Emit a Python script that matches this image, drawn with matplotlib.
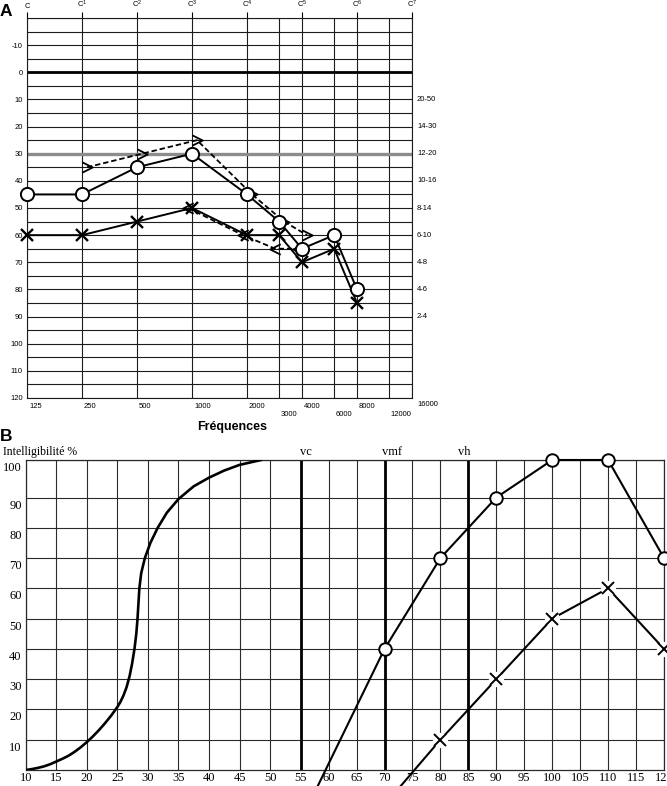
import numpy as np
import matplotlib
matplotlib.use("Agg")
import matplotlib.pyplot as plt
from matplotlib.path import Path
from matplotlib.ticker import NullLocator
from matplotlib.transforms import ScaledTranslation

plt.rcParams['font.family'] = ['Liberation Sans', 'DejaVu Sans']
plt.rcParams['mathtext.fontset'] = 'custom'
plt.rcParams['mathtext.rm'] = 'Liberation Sans'
plt.rcParams['mathtext.it'] = 'Liberation Sans:italic'
plt.rcParams['mathtext.bf'] = 'Liberation Sans:bold'

# ---- A : audiogramme tonal ----
freqs = [125, 250, 500, 1000, 2000, 3000, 4000, 6000, 8000]
air_circle = [45, 45, 35, 30, 45, 55, 65, 60, 80]
air_cross = [60, 60, 55, 50, 60, 60, 70, 65, 85]
bone_right_freqs = [250, 500, 1000, 2000, 3000, 4000]
bone_right = [35, 30, 25, 45, 55, 60]
bone_left_freqs = [1000, 2000, 3000, 4000]
bone_left = [50, 60, 65, 65]

octave_freqs = [125, 250, 500, 1000, 2000, 4000, 8000, 16000]
octave_names = ['C', 'C$^{1}$', 'C$^{2}$', 'C$^{3}$', 'C$^{4}$', 'C$^{5}$', 'C$^{6}$', 'C$^{7}$']
half_freqs = [3000, 6000, 12000]
db_ticks = list(range(-10, 121, 10))
side_db = [10, 20, 30, 40, 50, 60, 70, 80, 90]
side_labels = ['20-50', '14-30', '12-20', '10-16', '8-14', '6-10', '4-8', '4-6', '2-4']

# ---- B : audiometrie vocale ----
normal_db = [10, 11, 12, 13, 14, 15, 16, 17, 18, 19, 20, 21, 22, 23, 24, 25, 25.5, 26,
             26.5, 27, 27.4, 27.8, 28.1, 28.3, 28.45, 28.6, 28.9, 29.5, 30.4, 31.6,
             33.1, 35, 37.5, 40, 42.5, 45, 48.5]
normal_pct = [0, 0.3, 0.7, 1.2, 1.9, 2.8, 3.7, 4.7, 6, 7.5, 9.2, 11.1, 13.2, 15.5, 18,
              20.8, 22.5, 24.6, 27.3, 31, 35, 40, 45, 50, 55, 60, 65, 70, 75, 80,
              85, 89.5, 93, 95.3, 97.2, 98.7, 100]
circle_db = [58, 70, 80, 90, 100, 110, 120]
circle_pct = [-5.5, 40, 70, 90, 100, 100, 70]
cross_db = [72.8, 80, 90, 100, 110, 120]
cross_pct = [-5.5, 10, 30, 50, 60, 40]
ref_db = [55, 70, 85]
ref_names = ['vc', 'vmf', 'vh']
b_xticks = list(range(10, 121, 5))
b_yticks = list(range(10, 101, 10))

W, H = 667, 786
fig = plt.figure(figsize=(W / 100, H / 100), dpi=100)


def box(l, t, r, b):
    return [l / W, 1 - b / H, (r - l) / W, (b - t) / H]


def shift(ax, dx):
    return ax.transData + ScaledTranslation(dx / 100, 0, fig.dpi_scale_trans)


small = 5.5
grid_c = '#1c1c1c'

# ================= A =================
axA = fig.add_axes(box(27, 18, 412, 398))
axA.set_xscale('log', base=2)
axA.set_xlim(125, 16000)
axA.set_ylim(120, -20)
axA.xaxis.set_minor_locator(NullLocator())
axA.yaxis.set_minor_locator(NullLocator())

axA.hlines(range(-20, 121, 5), 125, 16000, colors=grid_c, lw=0.8, zorder=1)
axA.vlines(octave_freqs + half_freqs, -20, 120, colors=grid_c, lw=0.8, zorder=1)
axA.hlines(0, 125, 16000, colors='black', lw=2.0, zorder=1.5)
axA.hlines(30, 125, 16000, colors='#8c8c8c', lw=2.4, zorder=1.5)

right_chev = Path([(-1, 1), (1, 0), (-1, -1)], [Path.MOVETO, Path.LINETO, Path.LINETO])
left_chev = Path([(1, 1), (-1, 0), (1, -1)], [Path.MOVETO, Path.LINETO, Path.LINETO])

axA.plot(bone_right_freqs, bone_right, color='black', lw=1.3, ls=(0, (3, 1.6)),
         marker=right_chev, ms=7.5, mfc='none', mec='black', mew=1.3,
         transform=shift(axA, 5), zorder=3, clip_on=False)
axA.plot(bone_left_freqs, bone_left, color='black', lw=1.3, ls=(0, (3, 1.6)),
         marker=left_chev, ms=7.5, mfc='none', mec='black', mew=1.3,
         transform=shift(axA, -4), zorder=3, clip_on=False)
axA.plot(freqs, air_cross, color='black', lw=1.4, marker='x', ms=8, mew=1.7,
         zorder=4, clip_on=False)
axA.plot(freqs, air_circle, color='black', lw=1.4, marker='o', ms=9.5, mfc='white',
         mec='black', mew=1.4, zorder=5, clip_on=False)

axA.set_yticks(db_ticks, [str(v) for v in db_ticks])
axA.set_xticks(octave_freqs, octave_names)
axA.tick_params(axis='y', length=0, pad=3, labelsize=small)
axA.tick_params(axis='x', which='major', top=True, bottom=False, labeltop=True,
                labelbottom=False, length=4.3, width=0.8, pad=1.5, labelsize=small,
                direction='out')
for s in axA.spines.values():
    s.set_linewidth(0.8)
    s.set_color(grid_c)

for f in octave_freqs[:-1]:
    axA.annotate(str(f), xy=(f, 0), xycoords=('data', 'axes fraction'),
                 xytext=(2, -9), textcoords='offset pixels', ha='left', va='center',
                 fontsize=small)
axA.annotate(str(octave_freqs[-1]), xy=(octave_freqs[-1], 0),
             xycoords=('data', 'axes fraction'), xytext=(5, -7),
             textcoords='offset pixels', ha='left', va='center', fontsize=small)
for f in half_freqs:
    axA.annotate(str(f), xy=(f, 0), xycoords=('data', 'axes fraction'),
                 xytext=(1, -17), textcoords='offset pixels', ha='left', va='center',
                 fontsize=small)
for d, lab in zip(side_db, side_labels):
    axA.annotate(lab, xy=(1, d), xycoords=('axes fraction', 'data'),
                 xytext=(5, 0), textcoords='offset pixels', ha='left', va='center',
                 fontsize=small)

fig.text(232 / W, 1 - 427 / H, 'Fréquences', ha='center', va='center',
         fontsize=9, fontweight='bold')
fig.text(0 / W, 1 - 11 / H, 'A', ha='left', va='center', fontsize=12.5, fontweight='bold')
fig.text(0 / W, 1 - 437 / H, 'B', ha='left', va='center', fontsize=12.5, fontweight='bold')

# ================= B =================
# the printed grid is not evenly ruled: wider steps below 55 dB and above 90 %
KX = 5.58 / 6.1
KY = 37.7 / 30.4


def fwd_x(v):
    v = np.asarray(v, float)
    return np.where(v <= 55, v, 55 + (v - 55) * KX)


def inv_x(u):
    u = np.asarray(u, float)
    return np.where(u <= 55, u, 55 + (u - 55) / KX)


def fwd_y(v):
    v = np.asarray(v, float)
    return np.where(v <= 90, v, 90 + (v - 90) * KY)


def inv_y(u):
    u = np.asarray(u, float)
    return np.where(u <= 90, u, 90 + (u - 90) / KY)


serif = ['Liberation Serif', 'DejaVu Serif']
axB = fig.add_axes(box(25.7, 460, 664, 770))
axB.set_xscale('function', functions=(fwd_x, inv_x))
axB.set_yscale('function', functions=(fwd_y, inv_y))
axB.set_xlim(10, 120)
axB.set_ylim(0, 100)
axB.xaxis.set_minor_locator(NullLocator())
axB.yaxis.set_minor_locator(NullLocator())

axB.vlines(b_xticks, 0, 100, colors='#2a2a2a', lw=0.8, zorder=1)
axB.hlines(b_yticks, 10, 120, colors='#2a2a2a', lw=0.8, zorder=1)
axB.vlines(ref_db, 0, 100, colors='black', lw=2.0, zorder=2)
for x, name, dx in zip(ref_db, ref_names, [5, 8, -4]):
    axB.annotate(name, xy=(x, 1), xycoords=('data', 'axes fraction'),
                 xytext=(dx, 8), textcoords='offset pixels', ha='center', va='center',
                 fontsize=9, family=serif)

axB.plot(normal_db, normal_pct, color='black', lw=1.9, zorder=3,
         solid_joinstyle='round')

axB.plot(circle_db, circle_pct, color='black', lw=1.5, zorder=3, clip_on=False)
axB.plot(circle_db[1:], circle_pct[1:], ls='none', marker='o', ms=9, mfc='white',
         mec='black', mew=1.4, zorder=4, clip_on=False)

axB.plot(cross_db, cross_pct, color='black', lw=1.5, zorder=3, clip_on=False)
axB.plot(cross_db[1:], cross_pct[1:], ls='none', marker='o', ms=11, mfc='white',
         mec='none', zorder=4, clip_on=False)
axB.plot(cross_db[1:], cross_pct[1:], ls='none', marker='x', ms=8, mew=1.4,
         color='black', zorder=5, clip_on=False)

axB.set_xticks(b_xticks, [str(v) for v in b_xticks])
axB.set_yticks(b_yticks, [''] * len(b_yticks))
axB.tick_params(length=0)
axB.tick_params(axis='x', pad=1.5)
for lab in axB.get_xticklabels():
    lab.set_fontfamily(serif)
    lab.set_fontsize(9)
for v in b_yticks:
    axB.annotate(str(v), xy=(0, v), xycoords=('axes fraction', 'data'),
                 xytext=(-4, -8), textcoords='offset pixels', ha='right', va='center',
                 fontsize=9, family=serif)
for s in axB.spines.values():
    s.set_linewidth(0.9)
    s.set_color('#2a2a2a')

fig.text(3 / W, 1 - 452 / H, 'Intelligibilité %', ha='left', va='center',
         fontsize=8.5, family=serif)

fig.savefig('out.png', dpi=100)
